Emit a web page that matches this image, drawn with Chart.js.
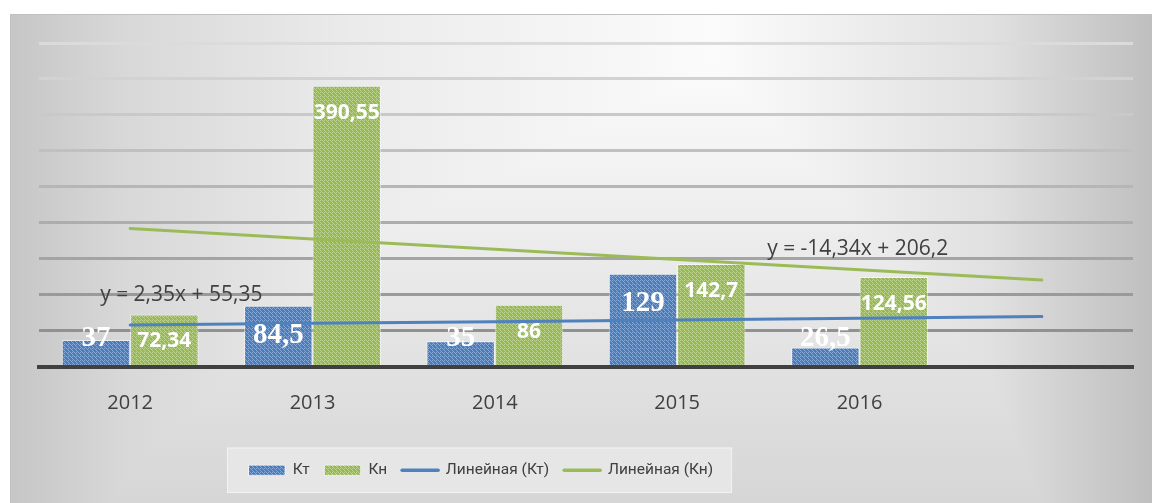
<!DOCTYPE html>
<html lang="ru">
<head>
<meta charset="utf-8">
<title>Кт и Кн</title>
<script src="https://cdn.jsdelivr.net/npm/chart.js@4.4.0/dist/chart.umd.min.js"></script>
<style>
  html, body { margin: 0; padding: 0; background: #fff; }
  canvas { display: block; }
</style>
</head>
<body>
<canvas id="chart" width="1152" height="503"></canvas>
<script>
// --- Data ---
const years = ['2012', '2013', '2014', '2015', '2016', ''];   // last slot = forecast period of the trend
const ktValues = [37, 84.5, 35, 129, 26.5, null];
const knValues = [72.34, 390.55, 86, 142.7, 124.56, null];
// trend lines as shown on the chart (one period forward)
const ktTrend = [57.7, 60.05, 62.4, 64.75, 67.1, 69.45];
const knTrend = [191.86, 177.52, 163.18, 148.84, 134.5, 120.16];
const ktEquation = 'y = 2,35x + 55,35';
const knEquation = 'y = -14,34x + 206,2';

const BLUE = '#4f81bd';
const GREEN = '#9bbb59';
const TEXT = '#404040';

// --- Helpers ---
function makePattern(base, dot) {
    const c = document.createElement('canvas');
    c.width = 4; c.height = 4;
    const p = c.getContext('2d');
    p.fillStyle = base;
    p.fillRect(0, 0, 4, 4);
    p.fillStyle = dot;
    p.fillRect(0, 0, 1, 1);
    p.fillRect(2, 0, 1, 1);
    p.fillRect(0, 2, 1, 1);
    p.fillRect(1, 3, 1, 1);
    p.fillRect(3, 1, 1, 1);
    return p.createPattern(c, 'repeat');
}

const bluePattern = makePattern('#4a7cba', '#86a8d6');
const greenPattern = makePattern('#97b855', '#bcd38e');

function fmt(v) {
    return String(v).replace('.', ',');
}

// background gradient + legend panel, drawn before anything else
const backdrop = {
    id: 'backdrop',
    beforeDraw(chart) {
        const {ctx, width, height} = chart;
        ctx.save();
        ctx.fillStyle = '#fff';
        ctx.fillRect(0, 0, width, height);

        const g1 = ctx.createLinearGradient(10, 0, width, 0);
        g1.addColorStop(0, '#c6c6c6');
        g1.addColorStop(0.1, '#d8d8d8');
        g1.addColorStop(0.3, '#ebebeb');
        g1.addColorStop(0.62, '#fbfbfb');
        g1.addColorStop(0.86, '#e0e0e0');
        g1.addColorStop(1, '#bfbfbf');
        ctx.fillStyle = g1;
        ctx.fillRect(10, 14, width - 10, height - 14);

        ctx.globalCompositeOperation = 'darken';
        const g2 = ctx.createLinearGradient(0, 14, 0, height);
        g2.addColorStop(0, '#ffffff');
        g2.addColorStop(1, '#d6d6d6');
        ctx.fillStyle = g2;
        ctx.fillRect(10, 14, width - 10, height - 14);
        ctx.globalCompositeOperation = 'source-over';

        ctx.strokeStyle = '#c0c0c0';
        ctx.lineWidth = 1;
        ctx.beginPath();
        ctx.moveTo(10.5, height);
        ctx.lineTo(10.5, 14.5);
        ctx.lineTo(width, 14.5);
        ctx.stroke();

        // legend panel
        const hb = chart.legend.legendHitBoxes;
        if (hb && hb.length) {
            const last = hb[hb.length - 1];
            const x0 = hb[0].left - 22;
            const x1 = last.left + last.width + 19;
            const y0 = hb[0].top - 15;
            const y1 = hb[0].top + hb[0].height + 15;
            ctx.fillStyle = '#e6e6e6';
            ctx.fillRect(x0, y0, x1 - x0, y1 - y0);
            ctx.strokeStyle = 'rgba(255,255,255,0.5)';
            ctx.strokeRect(x0 + 0.5, y0 + 0.5, x1 - x0 - 1, y1 - y0 - 1);
        }
        ctx.restore();
    }
};

// shift legend so it sits left of centre, like the original
const legendPlace = {
    id: 'legendPlace',
    afterLayout(chart) {
        const lg = chart.legend;
        const w = lg.right - lg.left;
        lg.left = 234;
        lg.right = 234 + w;
    }
};

// value labels inside the bars and the trend equations
const annotations = {
    id: 'annotations',
    afterDatasetsDraw(chart) {
        const {ctx} = chart;
        ctx.save();
        ctx.fillStyle = '#fff';
        ctx.textAlign = 'center';
        ctx.textBaseline = 'middle';

        ctx.font = 'bold 29px "Liberation Serif"';
        chart.getDatasetMeta(0).data.forEach((bar, i) => {
            if (ktValues[i] == null) return;
            ctx.fillText(fmt(ktValues[i]), bar.x, Math.min(bar.y + 30, bar.base - 26));
        });

        ctx.font = 'bold 21px "Open Sans"';
        chart.getDatasetMeta(1).data.forEach((bar, i) => {
            if (knValues[i] == null) return;
            ctx.fillText(fmt(knValues[i]), bar.x, Math.min(bar.y + 27, bar.base - 20));
        });

        const xs = chart.scales.x, ys = chart.scales.y;
        ctx.fillStyle = TEXT;
        ctx.textAlign = 'left';
        ctx.font = '21px "Open Sans"';
        ctx.fillText(ktEquation, xs.getPixelForValue(0) - 30, ys.getPixelForValue(100));
        ctx.fillText(knEquation, xs.getPixelForValue(3) + 90, ys.getPixelForValue(164));
        ctx.restore();
    }
};

const chart = new Chart(document.getElementById('chart'), {
    data: {
        labels: years,
        datasets: [
            {
                type: 'bar', label: 'Кт', data: ktValues, order: 2,
                backgroundColor: bluePattern, borderColor: 'rgba(255,255,255,0.55)', borderWidth: 1,
                categoryPercentage: 0.75, barPercentage: 1.0
            },
            {
                type: 'bar', label: 'Кн', data: knValues, order: 2,
                backgroundColor: greenPattern, borderColor: 'rgba(255,255,255,0.55)', borderWidth: 1,
                categoryPercentage: 0.75, barPercentage: 1.0
            },
            {
                type: 'line', label: 'Линейная (Кт)', data: ktTrend, order: 1,
                borderColor: BLUE, borderWidth: 3, borderCapStyle: 'round',
                pointRadius: 0, tension: 0, fill: false
            },
            {
                type: 'line', label: 'Линейная (Кн)', data: knTrend, order: 1,
                borderColor: GREEN, borderWidth: 3, borderCapStyle: 'round',
                pointRadius: 0, tension: 0, fill: false
            }
        ]
    },
    options: {
        responsive: false,
        devicePixelRatio: 1,
        animation: false,
        layout: { padding: { left: 39, right: 19, top: 43, bottom: 15 } },
        scales: {
            x: {
                offset: true,
                grid: { display: false, drawTicks: false },
                border: { display: true, color: TEXT, width: 4, z: 1 },
                ticks: { color: TEXT, font: { family: 'Open Sans', size: 20 }, padding: 25 },
                afterFit(scale) { scale.height += 7; }
            },
            y: {
                min: 0,
                max: 450,
                ticks: { display: false, stepSize: 50 },
                border: { display: false },
                grid: {
                    drawTicks: false,
                    lineWidth: 3,
                    color: (c) => {
                        const v = c.tick ? c.tick.value : 0;
                        if (v === 0) return 'rgba(0,0,0,0)';
                        const g = Math.round(145 + (v - 50) / 50 * 9.3);
                        return `rgb(${g},${g},${g})`;
                    }
                }
            }
        },
        plugins: {
            tooltip: { enabled: false },
            legend: {
                position: 'bottom',
                align: 'start',
                labels: {
                    usePointStyle: true,
                    pointStyleWidth: 36,
                    boxHeight: 10,
                    padding: 15,
                    color: TEXT,
                    font: { family: 'Roboto', size: 15.5 },
                    generateLabels(ch) {
                        return ch.data.datasets.map((ds, i) => {
                            const isLine = ds.type === 'line';
                            return {
                                text: ds.label,
                                fillStyle: isLine ? 'rgba(0,0,0,0)' : ds.backgroundColor,
                                strokeStyle: isLine ? ds.borderColor : 'rgba(255,255,255,0.55)',
                                lineWidth: isLine ? 3.5 : 1,
                                lineCap: 'round',
                                pointStyle: isLine ? 'line' : 'rect',
                                fontColor: TEXT,
                                hidden: false,
                                datasetIndex: i
                            };
                        });
                    }
                }
            }
        }
    },
    plugins: [backdrop, legendPlace, annotations]
});
</script>
</body>
</html>
